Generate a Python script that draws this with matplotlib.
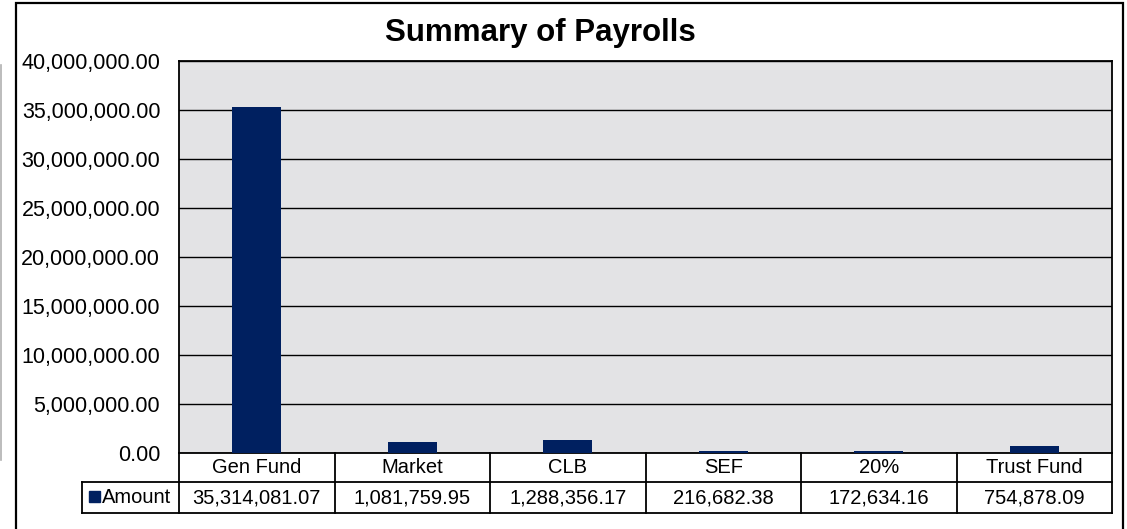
import matplotlib
matplotlib.use("Agg")
import matplotlib.pyplot as plt
from matplotlib.lines import Line2D
from matplotlib.patches import Rectangle
from matplotlib.ticker import FuncFormatter, MultipleLocator
import matplotlib.transforms as mtransforms

categories = ["Gen Fund", "Market", "CLB", "SEF", "20%", "Trust Fund"]
amounts = [35314081.07, 1081759.95, 1288356.17, 216682.38, 172634.16, 754878.09]
series_name = "Amount"
title = "Summary of Payrolls"

plt.rcParams['font.family'] = ['Liberation Sans', 'DejaVu Sans']

W, H = 1127, 529
fig = plt.figure(figsize=(W / 100, H / 100), dpi=100)

def fx(px):
    return px / W

def fy(py):
    return 1 - py / H

# outer chart frame
fig.add_artist(Rectangle((fx(16), fy(531)), fx(1123) - fx(16), fy(3) - fy(531),
                         transform=fig.transFigure, fill=False, ec='black', lw=1.6))
# fragment of a neighbouring object at the far left
fig.add_artist(Line2D([fx(1), fx(1)], [fy(65), fy(460)], transform=fig.transFigure,
                      color='#b0b0b0', lw=1.2))

left, right, top, bottom = 179, 1112, 61, 453
ax = fig.add_axes([fx(left), fy(bottom), fx(right) - fx(left), fy(top) - fy(bottom)])
ax.set_facecolor('#e3e3e5')

x = list(range(len(categories)))
ax.bar(x, amounts, width=0.315, color='#002060', zorder=3)
ax.set_xlim(-0.5, len(categories) - 0.5)
ax.set_ylim(0, 40000000)
ax.yaxis.set_major_locator(MultipleLocator(5000000))
ax.yaxis.set_major_formatter(FuncFormatter(lambda v, p: f"{v:,.2f}"))
ax.grid(axis='y', color='black', lw=1.0, zorder=1)
ax.set_axisbelow(True)
ax.tick_params(axis='y', length=0, labelsize=15.5, pad=13.5)
ax.set_xticks([])
for s in ax.spines.values():
    s.set_color('black')
    s.set_linewidth(1.3)

fig.text(fx(540), fy(33), title, ha='center', va='center', fontsize=22.5, fontweight='bold')

# data table below the axes
ph = bottom - top
r1 = -(482 - bottom) / ph
r2 = -(513 - bottom) / ph
tr = mtransforms.blended_transform_factory(ax.transData, ax.transAxes)
leg_left = -0.5 - (left - 82) / ((right - left) / len(categories))
lk = dict(color='black', lw=1.3, transform=tr, clip_on=False)
n = len(categories)
ax.add_line(Line2D([leg_left, n - 0.5], [r1, r1], **lk))
ax.add_line(Line2D([leg_left, n - 0.5], [r2, r2], **lk))
ax.add_line(Line2D([leg_left, leg_left], [r1, r2], **lk))
for i in range(n + 1):
    ax.add_line(Line2D([i - 0.5, i - 0.5], [0, r2], **lk))
fs = 14.5
for i, (c, v) in enumerate(zip(categories, amounts)):
    ax.text(i, (0 + r1) / 2, c, transform=tr, ha='center', va='center', fontsize=fs)
    ax.text(i, (r1 + r2) / 2, f"{v:,.2f}", transform=tr, ha='center', va='center', fontsize=fs)
# legend key in the table row header
fig.add_artist(Rectangle((fx(89), fy(502)), fx(100) - fx(89), fy(491) - fy(502),
                         transform=fig.transFigure, color='#002060'))
fig.text(fx(102), fy(497.5), series_name, ha='left', va='center', fontsize=fs)

fig.savefig("out.png", dpi=100, facecolor='white')
